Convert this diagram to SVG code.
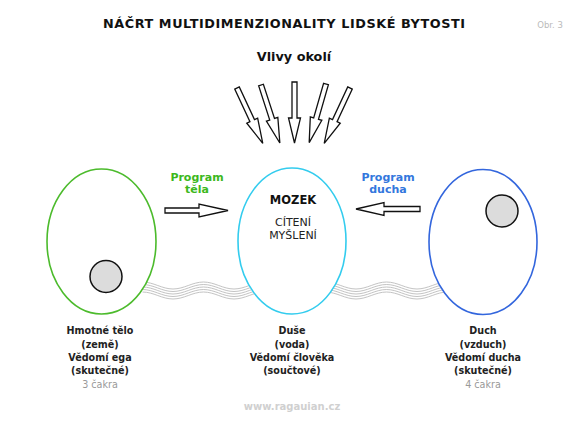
<svg xmlns="http://www.w3.org/2000/svg" xmlns:xlink="http://www.w3.org/1999/xlink" width="581" height="421" viewBox="0 0 581 421">
<style>
.t{font-family:"DejaVu Sans",Verdana,sans-serif;text-anchor:middle;}
.b{font-weight:bold;}
.lbl{font-size:9.6px;font-weight:bold;fill:#222;}
.ck{font-size:9.6px;fill:#999;}
.arr{fill:#fff;stroke:#111;stroke-width:1.3;stroke-linejoin:miter;}
.wave{fill:none;stroke:#b4b4b4;stroke-width:0.8;}
.blob{fill:#fff;stroke-width:1.6;}
.dot{fill:#dcdcdc;stroke:#111;stroke-width:1.5;}
</style>
<defs>
<path id="down" d="M-2.5,0 L2.5,0 L2.5,36 L6,36 L0,61 L-6,36 L-2.5,36 Z"/>
<path id="wv" d="M142.5,282 C153.5,282 162,289 173,289 S192.5,282 203.5,282 S223,289 234,289 S253.5,282 264.5,282 S284,289 295,289 S314.5,282 325.5,282 S345,289 356,289 S375.5,282 386.5,282 S406,289 417,289 S436.5,282 447.5,282"/>
</defs>
<rect width="581" height="421" fill="#fff"/>
<text class="t b" x="284" y="28" font-size="12.8" fill="#111" textLength="362" lengthAdjust="spacing">NÁČRT MULTIDIMENZIONALITY LIDSKÉ BYTOSTI</text>
<text class="t" x="550" y="28" font-size="8.5" fill="#bbb">Obr. 3</text>
<text class="t b" x="294" y="61" font-size="12.8" fill="#111">Vlivy okolí</text>

<g id="connectors">
<g class="wave">
<use xlink:href="#wv"/>
<use xlink:href="#wv" transform="translate(0,2.5)"/>
<use xlink:href="#wv" transform="translate(0,5)"/>
<use xlink:href="#wv" transform="translate(0,7.5)"/>
<use xlink:href="#wv" transform="translate(0,10)"/>
</g>
<g class="arr">
<use xlink:href="#down" transform="translate(237,88) rotate(-25)"/>
<use xlink:href="#down" transform="translate(261,85) rotate(-18)"/>
<use xlink:href="#down" transform="translate(294.5,82)"/>
<use xlink:href="#down" transform="translate(326,84) rotate(16)"/>
<use xlink:href="#down" transform="translate(350,88) rotate(25)"/>
<path d="M165,208 L199,208 L199,204 L228,210.5 L199,217 L199,213 L165,213 Z"/>
<path d="M420,206.5 L384,206.5 L384,202.5 L356,209 L384,215.5 L384,211.5 L420,211.5 Z"/>
</g>
</g>

<text class="t b" x="197" y="181" font-size="11" fill="#3cb81c">Program</text>
<text class="t b" x="197" y="193" font-size="11" fill="#3cb81c">těla</text>
<text class="t b" x="388" y="181" font-size="11" fill="#3377dd">Program</text>
<text class="t b" x="388" y="193" font-size="11" fill="#3377dd">ducha</text>

<g id="body">
<ellipse class="blob" cx="101.5" cy="241.5" rx="54.5" ry="72.5" stroke="#4cbb2c"/>
<circle class="dot" cx="106" cy="276.5" r="16"/>
</g>
<g id="soul">
<ellipse class="blob" cx="292" cy="241" rx="54" ry="73" stroke="#33ccee"/>
<text class="t b" x="293" y="204" font-size="11.5" fill="#111">MOZEK</text>
<text class="t" x="293" y="226" font-size="11" fill="#222">CÍTENÍ</text>
<text class="t" x="293" y="239" font-size="11" fill="#222">MYŠLENÍ</text>
</g>
<g id="spirit">
<ellipse class="blob" cx="483" cy="242" rx="54" ry="72.5" stroke="#3366dd"/>
<circle class="dot" cx="502" cy="211" r="16"/>
</g>

<g id="label-body">
<text class="t lbl" x="100" y="334">Hmotné tělo</text>
<text class="t lbl" x="100" y="347.5">(země)</text>
<text class="t lbl" x="100" y="361">Vědomí ega</text>
<text class="t lbl" x="100" y="374">(skutečné)</text>
<text class="t ck" x="100" y="387.5">3 čakra</text>
</g>
<g id="label-soul">
<text class="t lbl" x="292" y="334">Duše</text>
<text class="t lbl" x="292" y="347.5">(voda)</text>
<text class="t lbl" x="292" y="361">Vědomí člověka</text>
<text class="t lbl" x="292" y="374">(součtové)</text>
</g>
<g id="label-spirit">
<text class="t lbl" x="483" y="334">Duch</text>
<text class="t lbl" x="483" y="347.5">(vzduch)</text>
<text class="t lbl" x="483" y="361">Vědomí ducha</text>
<text class="t lbl" x="483" y="374">(skutečné)</text>
<text class="t ck" x="483" y="387.5">4 čakra</text>
</g>
<text class="t b" x="292" y="410" font-size="10" fill="#d0d0d0">www.ragauian.cz</text>
</svg>
